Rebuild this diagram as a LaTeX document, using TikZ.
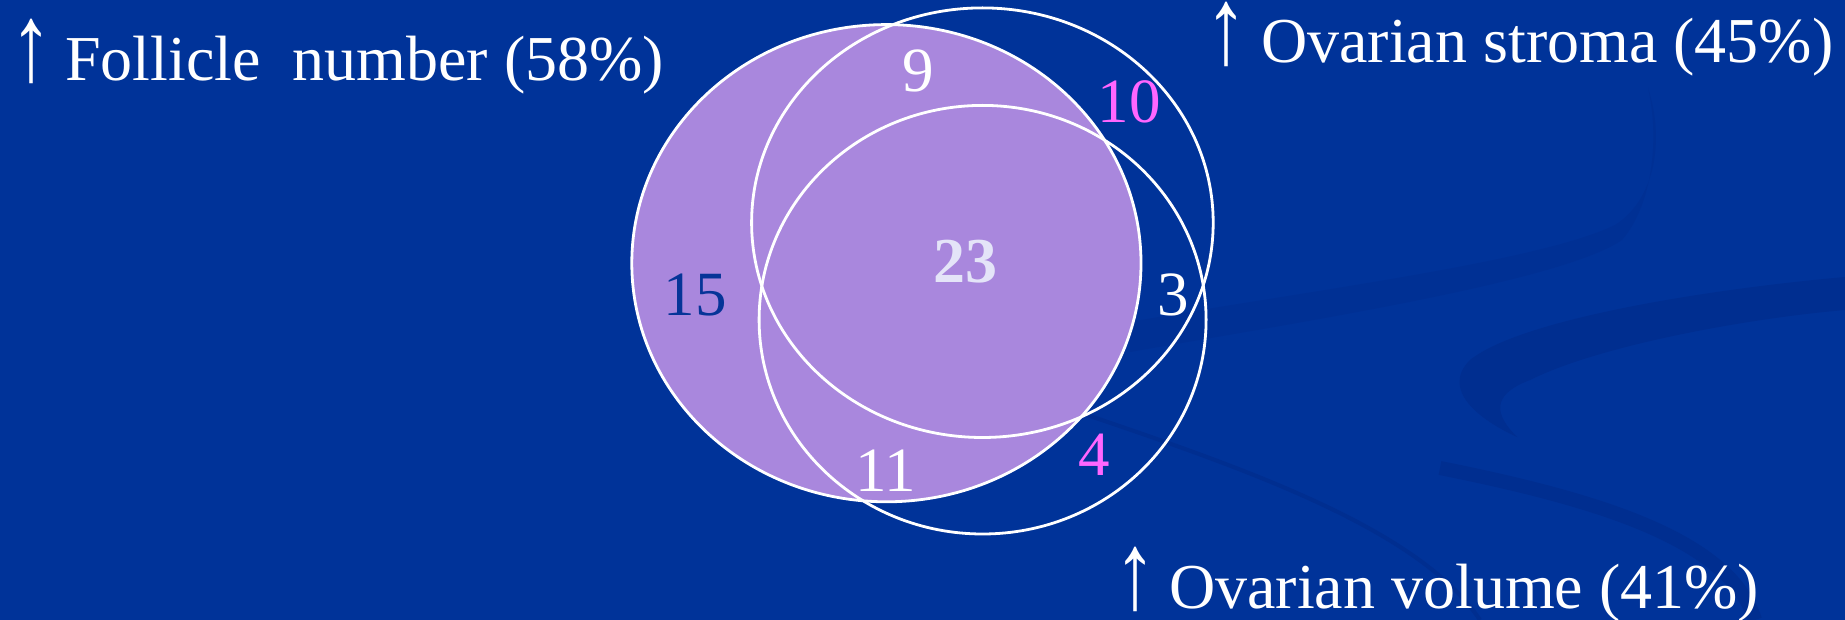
\documentclass[tikz,border=0pt]{standalone}
\usepackage{fontspec}
\setmainfont{Liberation Serif}
\definecolor{bg}{RGB}{0,51,153}
\definecolor{swoosh}{RGB}{0,46,144}
\definecolor{swooshfaint}{RGB}{0,48,148}
\definecolor{lilac}{RGB}{169,135,221}
\definecolor{pinkish}{RGB}{255,102,255}
\definecolor{pale}{RGB}{228,228,248}
\definecolor{deepblue}{RGB}{6,52,152}
\tikzset{
  setline/.style={draw=white, line width=2.8pt},
  biglabel/.style={text=white, inner sep=0pt, anchor=base west, font=\fontsize{64}{70}\selectfont},
  uparrow/.style={text=white, inner sep=0pt, anchor=base, font=\fontsize{84}{84}\selectfont},
  count/.style={inner sep=0pt, font=\fontsize{63}{70}\selectfont},
}
\begin{document}
\begin{tikzpicture}[x=1pt,y=-1pt]
\fill[bg] (0,0) rectangle (1845,620);
\useasboundingbox (0,0) rectangle (1845,620);
% faint background swooshes
\fill[swoosh] (1845,277) .. controls (1700,290) and (1520,320) .. (1470,360)
  .. controls (1440,390) and (1480,420) .. (1517,437)
  .. controls (1495,415) and (1490,395) .. (1530,380)
  .. controls (1600,345) and (1750,318) .. (1845,310) -- cycle;
\fill[swooshfaint] (1130,322) .. controls (1300,292) and (1540,262) .. (1615,225)
  .. controls (1655,200) and (1665,140) .. (1648,88)
  .. controls (1660,140) and (1652,205) .. (1622,240)
  .. controls (1560,282) and (1300,322) .. (1130,352) -- cycle;
\draw[swoosh, line width=4pt] (1081,413) .. controls (1250,470) and (1420,530) .. (1480,620);
\draw[swoosh, line width=14pt] (1440,468) .. controls (1600,500) and (1730,540) .. (1755,620);
% Venn sets
\path[setline, fill=lilac] (886.4,263.2) ellipse [x radius=254.6pt, y radius=238.6pt];
\path[setline] (982.4,222.7) ellipse [x radius=230.8pt, y radius=214.8pt];
\path[setline] (982.6,319.7) ellipse [x radius=223.5pt, y radius=214.3pt];
% counts
\node[count, text=white] (n9) at (918,71) {9};
\node[count, text=pinkish] (n10) at (1129,102) {10};
\node[count, text=pale, font=\fontsize{64}{70}\selectfont\bfseries] (n23) at (965,262) {23};
\node[count, text=deepblue] (n15) at (695,295) {15};
\node[count, text=white] (n3) at (1173,295) {3};
\node[count, text=pinkish] (n4) at (1094,455) {4};
\node[count, text=white] (n11) at (886,471) {11};
% set labels
\node[uparrow] (afol) at (31,81) {\smash{\scalebox{1}[1.3]{↑}}};
\node[biglabel] (lfol) at (65,81) {Follicle\ \ number (58\%)};
\node[uparrow] (astr) at (1226,64) {\smash{\scalebox{1}[1.3]{↑}}};
\node[biglabel] (lstr) at (1261,63) {Ovarian stroma (45\%)};
\node[uparrow] (avol) at (1135,608) {\smash{\scalebox{1}[1.3]{↑}}};
\node[biglabel] (lvol) at (1169,608) {Ovarian volume (41\%)};
\end{tikzpicture}
\end{document}
